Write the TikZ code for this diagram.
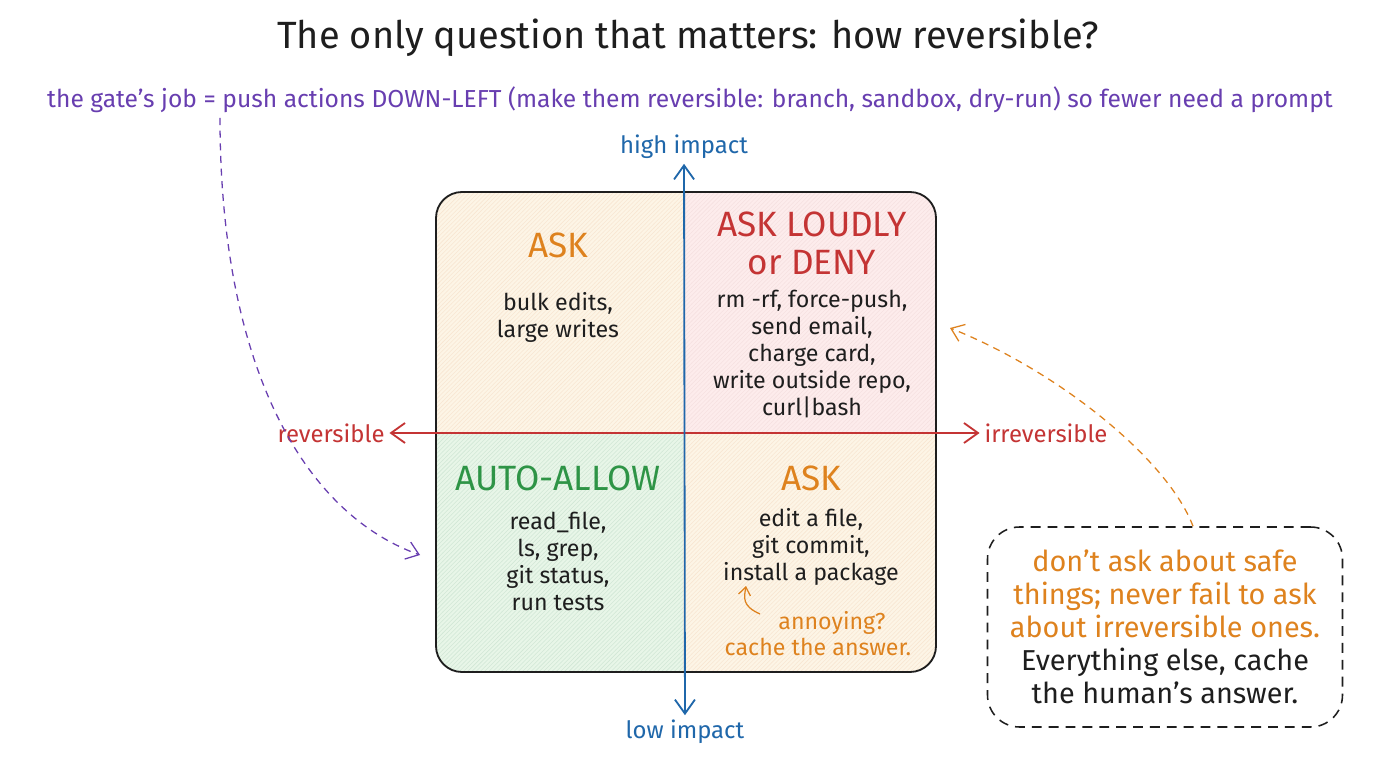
\documentclass[tikz,border=0pt]{standalone}
\usepackage{fontspec}
\setmainfont{Fira Sans}
\usetikzlibrary{arrows.meta,positioning,patterns,calc}
\definecolor{GateInk}{RGB}{30,30,30}
\definecolor{GatePurple}{RGB}{104,62,176}
\definecolor{AxisBlue}{RGB}{31,103,170}
\definecolor{AxisRed}{RGB}{196,52,52}
\definecolor{AskOrange}{RGB}{222,130,30}
\definecolor{AllowGreen}{RGB}{46,148,70}
\definecolor{FillOrange}{RGB}{253,245,230}
\definecolor{FillRed}{RGB}{253,236,236}
\definecolor{FillGreen}{RGB}{232,246,232}

\begin{document}
\begin{tikzpicture}[
  title/.style={font=\fontsize{27}{32}\selectfont, text=GateInk},
  gatenote/.style={font=\fontsize{17.5}{21}\selectfont, text=GatePurple},
  axislabel/.style={font=\fontsize{17}{20}\selectfont},
  head/.style={font=\fontsize{25}{27}\selectfont, align=center},
  body/.style={font=\fontsize{16.5}{19.3}\selectfont, align=center, text=GateInk},
  aside/.style={font=\fontsize{16.5}{18.5}\selectfont, align=center, text=AskOrange},
  rulebox/.style={draw=GateInk, line width=1.1pt, dashed, dash pattern=on 7pt off 5pt,
    rounded corners=0.8cm, minimum width=8.875cm, minimum height=5cm, align=center,
    font=\fontsize{20.5}{23.5}\selectfont},
  axis/.style={{Straight Barb[length=3.5mm,width=5mm]}-{Straight Barb[length=3.5mm,width=5mm]}, line width=1.3pt},
  hint/.style={-{Straight Barb[length=3mm,width=4.5mm]}, line width=0.9pt, dashed, dash pattern=on 5pt off 4pt},
  frame/.style={draw=GateInk, line width=1.3pt, rounded corners=0.65cm}
]
\useasboundingbox[fill=white] (0,0) rectangle (34.4,-19.2);

% title and the purple remark
\node[title] (title) at (17.2,-0.95) {The only question that matters: how reversible?};
\node[gatenote] (gatejob) at (17.25,-2.5) {the gate's job = push actions DOWN-LEFT (make them reversible: branch, sandbox, dry-run) so fewer need a prompt};

% quadrants
\begin{scope}
  \clip[rounded corners=0.65cm] (10.9,-4.8) rectangle (23.4,-16.8);
  \fill[FillOrange] (10.9,-4.8) rectangle (17.075,-10.825);
  \fill[FillRed] (17.075,-4.8) rectangle (23.4,-10.825);
  \fill[FillGreen] (10.9,-10.825) rectangle (17.075,-16.8);
  \fill[FillOrange] (17.075,-10.825) rectangle (23.4,-16.8);
  \fill[pattern=north east lines, pattern color=AskOrange!20] (10.9,-4.8) rectangle (17.075,-10.825);
  \fill[pattern=north east lines, pattern color=AxisRed!15] (17.075,-4.8) rectangle (23.4,-10.825);
  \fill[pattern=north east lines, pattern color=AllowGreen!22] (10.9,-10.825) rectangle (17.075,-16.8);
  \fill[pattern=north east lines, pattern color=AskOrange!20] (17.075,-10.825) rectangle (23.4,-16.8);
\end{scope}
\draw[frame] (10.9,-4.8) rectangle (23.4,-16.8);

% axes
\node[axislabel, text=AxisBlue] (high) at (17.1,-3.675) {high impact};
\node[axislabel, text=AxisBlue] (low) at (17.125,-18.3) {low impact};
\node[axislabel, text=AxisRed] (rev) at (8.275,-10.825) {reversible};
\node[axislabel, text=AxisRed] (irrev) at (26.15,-10.825) {irreversible};
\draw[axis, draw=AxisRed] (rev) -- (irrev);
\draw[axis, draw=AxisBlue] (high) -- (low);

% top left
\node[head, text=AskOrange] (askTL) at (13.95,-6.125) {ASK};
\node[body] (bulk) at (13.95,-7.94) {bulk edits,\\large writes};

% top right
\node[head, text=AxisRed] (loud) at (20.3,-6.075) {ASK LOUDLY\\or DENY};
\node[body] (danger) at (20.3,-8.85) {rm -rf, force-push,\\send email,\\charge card,\\write outside repo,\\curl|bash};

% bottom left
\node[head, text=AllowGreen] (allow) at (13.95,-11.95) {AUTO-ALLOW};
\node[body] (safe) at (13.95,-14.03) {read\_file,\\ls, grep,\\git status,\\run tests};

% bottom right
\node[head, text=AskOrange] (askBR) at (20.275,-11.95) {ASK};
\node[body] (edits) at (20.275,-13.68) {edit a file,\\git commit,\\install a package};
\node[aside] (annoy) at (20.45,-15.83) {\hspace*{1.2em}annoying?\\cache the answer.};
\draw[-{Straight Barb[length=2mm,width=3mm]}, draw=AskOrange, line width=0.9pt]
  (19.0,-15.35) .. controls (18.55,-15.15) and (18.6,-14.95) .. (18.65,-14.65);

% the rule of thumb
\node[rulebox, text=AskOrange] (rule) at (29.125,-15.675) {don't ask about safe\\things; never fail to ask\\about irreversible ones.\\\textcolor{GateInk}{Everything else, cache}\\\textcolor{GateInk}{the human's answer.}};

% dashed hints
\coordinate (jobstart) at (5.5,-2.95);
\coordinate (leftdown) at (10.5,-13.875);
\coordinate (louder) at (23.75,-8.2);
\draw[hint, draw=GatePurple] (jobstart)
  .. controls (5.5,-9) and (7.5,-12.8) .. (leftdown);
\draw[hint, draw=AskOrange] ([xshift=0.7cm]rule.north)
  .. controls (29.2,-11.5) and (26.5,-9.3) .. (louder);
\end{tikzpicture}
\end{document}
